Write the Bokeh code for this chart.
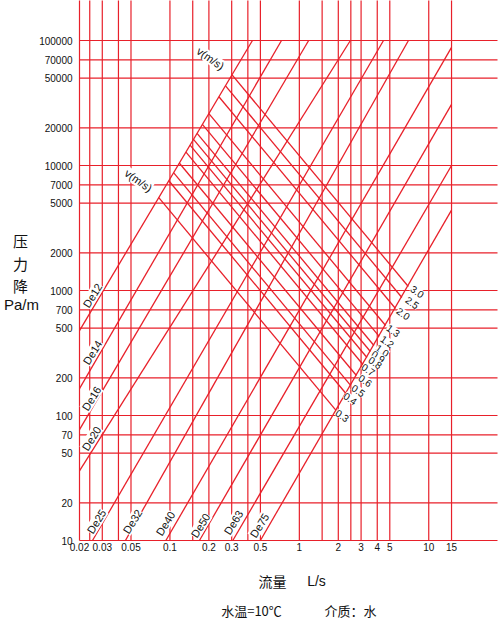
import math
from bokeh.plotting import figure
from bokeh.models import Range1d, Label, ColumnDataSource
from bokeh.core.properties import value
from bokeh.embed import file_html
from bokeh.resources import INLINE

RED = "#e8202a"

# ---- grid / tick values ----
x_grid = [0.02, 0.024, 0.03, 0.04, 0.05, 0.1, 0.15, 0.2, 0.3, 0.4, 0.5,
          1, 1.5, 2, 2.5, 3, 4, 5, 10, 15]
x_tick_vals = [0.02, 0.03, 0.05, 0.1, 0.2, 0.3, 0.5, 1, 2, 3, 4, 5, 10, 15]
x_tick_text = ["0.02", "0.03", "0.05", "0.1", "0.2", "0.3", "0.5",
               "1", "2", "3", "4", "5", "10", "15"]
y_grid = [10, 20, 50, 70, 100, 200, 500, 700, 1000, 2000, 5000, 7000,
          10000, 20000, 50000, 70000, 100000]
y_tick_text = ["10", "20", "50", "70", "100", "200", "500", "700", "1000",
               "2000", "5000", "7000", "10000", "20000", "50000", "70000",
               "100000"]

# ---- pipe lines (flow L/s, pressure drop Pa/m) ----
pipe_names = ["De12", "De14", "De16", "De20", "De25", "De32", "De40",
              "De50", "De63", "De75"]
pipe_q0 = [0.02, 0.02, 0.02, 0.02, 0.0252, 0.0453, 0.093, 0.169, 0.306, 0.50]
pipe_p0 = [478, 164, 77, 36, 10, 10, 10, 10, 10, 10]
pipe_q1 = [0.434, 0.728, 1.18, 2.48, 4.47, 6.97, 15, 15, 15, 15]
pipe_p1 = [100000, 100000, 100000, 100000, 100000, 100000, 88000, 30800,
           10000, 4400]

# ---- velocity lines (m/s) ----
vel_names = ["3.0", "2.5", "2.0", "1.3", "1.2", "1.0", "0.9", "0.8", "0.7",
             "0.6", "0.5", "0.4", "0.3"]
vel_q0 = [0.302, 0.269, 0.239, 0.200, 0.178, 0.162, 0.152, 0.143, 0.133,
          0.118, 0.107, 0.098, 0.082]
vel_p0 = [53100, 43400, 35500, 26000, 21300, 18070, 16200, 14560, 12800,
          10470, 8730, 7550, 5530]
vel_q1 = [6.95, 6.20, 5.53, 4.64, 4.14, 3.77, 3.54, 3.33, 3.10, 2.76, 2.49,
          2.29, 1.92]
vel_p1 = [1076, 879, 718, 525, 429, 363, 325, 291, 256, 209, 174, 150, 110]

# ---- page geometry (pixels) ----
W, H = 500, 622
X_ORG, X_DEC = 79, 129.4     # pixel of Q=0.02, pixels per decade
Y_ORG, Y_DEC = 540, 125.0    # pixel of P=10, pixels per decade
X_RIGHT = 497                # right end of horizontal grid lines


def qx(px):
    return 0.02 * 10 ** ((px - X_ORG) / X_DEC)


def pp(py):
    return 10 * 10 ** ((Y_ORG - py) / Y_DEC)


p = figure(width=W, height=H, x_axis_type="log", y_axis_type="log",
           x_range=Range1d(qx(0), qx(W)), y_range=Range1d(pp(H), pp(0)),
           x_axis_location=None, y_axis_location=None,
           output_backend="svg", toolbar_location=None,
           min_border=0)
p.outline_line_color = None
p.background_fill_color = "white"
p.grid.visible = False

q_lo, q_hi = 0.02, qx(X_RIGHT)
p_lo, p_hi = 10, pp(-2)

# grid lines
vsrc = ColumnDataSource(dict(x=x_grid, y0=[p_lo] * len(x_grid),
                             y1=[p_hi] * len(x_grid)))
p.segment(x0="x", y0="y0", x1="x", y1="y1", source=vsrc,
          line_color=RED, line_width=1.2)
hsrc = ColumnDataSource(dict(y=y_grid, x0=[q_lo] * len(y_grid),
                             x1=[q_hi] * len(y_grid)))
p.segment(x0="x0", y0="y", x1="x1", y1="y", source=hsrc,
          line_color=RED, line_width=1.2)

# pipe lines
pipe_src = ColumnDataSource(dict(q0=pipe_q0, p0=pipe_p0, q1=pipe_q1, p1=pipe_p1))
p.segment(x0="q0", y0="p0", x1="q1", y1="p1", source=pipe_src,
          line_color=RED, line_width=1.3)
# velocity lines
vel_src = ColumnDataSource(dict(q0=vel_q0, p0=vel_p0, q1=vel_q1, p1=vel_p1))
p.segment(x0="q0", y0="p0", x1="q1", y1="p1", source=vel_src,
          line_color=RED, line_width=1.3)

# tick labels
TICK_FONT = value("Liberation Sans")
xt = ColumnDataSource(dict(x=x_tick_vals, y=[pp(542)] * len(x_tick_vals),
                           t=x_tick_text))
p.text(x="x", y="y", text="t", source=xt, text_font=TICK_FONT,
       text_font_size="10px", text_align="center", text_baseline="top",
       text_color="#111111")
yt = ColumnDataSource(dict(x=[qx(72)] * len(y_grid), y=y_grid, t=y_tick_text))
p.text(x="x", y="y", text="t", source=yt, text_font=TICK_FONT,
       text_font_size="10px", text_align="right", text_baseline="middle",
       text_color="#111111")


def put(text, px, py, size, angle=0.0, font="Liberation Sans", bg=None):
    lab = Label(x=qx(px), y=pp(py), x_units="data", y_units="data",
                text=text, text_font=font, text_font_size=size,
                text_align="center", text_baseline="middle",
                text_color="#111111", angle=angle)
    if bg:
        lab.background_fill_color = bg
    p.add_layout(lab)


# pipe labels
pipe_lab_pos = [(92, 295), (92, 352), (91, 398), (91, 438), (96, 521),
                (132, 521), (165, 523), (200, 525), (233, 522), (259, 525)]
for name, (lx, ly) in zip(pipe_names, pipe_lab_pos):
    put(name, lx, ly, "11px", angle=math.radians(58), bg="white")

# velocity labels
vel_lab_pos = [(417, 291), (412, 302), (403, 313), (393, 330), (387, 341),
               (382, 350), (378, 356), (375, 362), (368, 369), (365, 380),
               (358, 390), (350, 398), (342, 415)]
for name, (lx, ly) in zip(vel_names, vel_lab_pos):
    put(name, lx, ly, "10px", angle=math.radians(-35), bg="white")

put("v(m/s)", 210, 58, "11px", angle=math.radians(-35), bg="white")
put("v(m/s)", 138, 180, "11px", angle=math.radians(-35), bg="white")

# axis titles
cjk = "Noto Sans CJK SC"
put("压", 20, 240, "15px", font=cjk)
put("力", 20, 263, "15px", font=cjk)
put("降", 20, 285, "15px", font=cjk)
put("Pa/m", 21, 304, "15px")
put("流量", 272, 580, "14px", font=cjk)
put("L/s", 316, 580, "14px")
put("水温=10℃", 251, 610, "13px", font=cjk)
put("介质：水", 350, 610, "13px", font=cjk)

open("out.html", "w").write(file_html(p, INLINE, "chart"))
